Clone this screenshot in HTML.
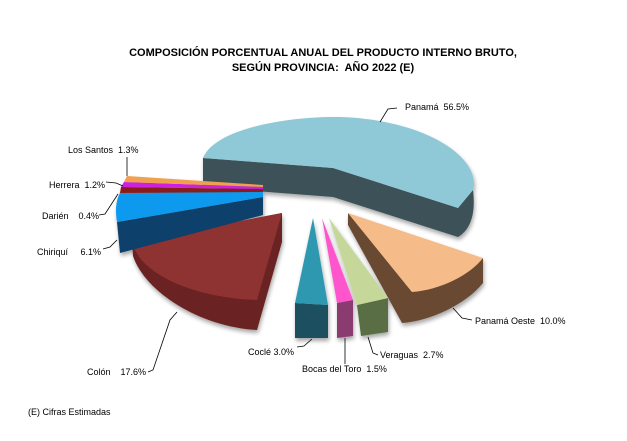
<!DOCTYPE html>
<html><head><meta charset="utf-8"><style>
html,body{margin:0;padding:0;background:#fff;}
svg{display:block;}
text{font-family:"Liberation Sans",Arial,sans-serif;font-size:9px;fill:#000;white-space:pre;}
.t{font-weight:bold;font-size:11px;}
</style></head><body>
<svg width="627" height="441" viewBox="0 0 627 441" xml:space="preserve">
<defs>
<filter id="sh" x="-10%" y="-10%" width="130%" height="130%"><feGaussianBlur in="SourceAlpha" stdDeviation="2"/><feOffset dx="1" dy="3"/><feComponentTransfer><feFuncA type="linear" slope="0.35"/></feComponentTransfer><feMerge><feMergeNode/><feMergeNode in="SourceGraphic"/></feMerge></filter>
</defs>
<text class="t" x="323" y="56" text-anchor="middle">COMPOSICIÓN PORCENTUAL ANUAL DEL PRODUCTO INTERNO BRUTO,</text>
<text class="t" x="323" y="71" text-anchor="middle">SEGÚN PROVINCIA:  AÑO 2022 (E)</text>

<g filter="url(#sh)">
<path d="M203,158 L203,187 L333,197 L458,237 C470,230 476,215 473,190 L458,208 L333,168 Z" fill="#3D5159"/>
<path d="M203,158 C215,128 290,116 340,117 C430,120 482,160 473,190 L458,208 L333,168 Z" fill="#8FC8D6"/>
<path d="M348,213 L348,225 L402,323 C430,321 465,305 483,283 L483,258 L412,292 Z" fill="#6B4A33"/>
<path d="M348,213 L483,258 C470,275 440,290 412,292 Z" fill="#F5BC8A"/>
<path d="M357,305 L388,298 L388,332 L361,336 Z" fill="#5A6E45"/>
<path d="M329,218 L388,298 L357,305 Z" fill="#C5D89A"/>
<path d="M337,303 L353,300 L353,336 L337,338 Z" fill="#8A3A70"/>
<path d="M322,218 L353,300 L337,303 Z" fill="#FF55CC"/>
<path d="M295,303 L328,305 L328,338 L295,338 Z" fill="#1A4F5E"/>
<path d="M313,218 L328,305 L295,303 Z" fill="#2E98B0"/>
<path d="M132,242 L133,256 C145,292 200,327 257,330 L282,242 L282,213 Z" fill="#6B2222"/>
<path d="M132,242 L282,213 L257,300 C195,298 140,275 132,242 Z" fill="#8F3232"/>
<path d="M117,222 L263,197 L263,215 L120,253 Z" fill="#0A3F6A"/>
<path d="M120,193 L263,191 L263,197 L117,222 C115,210 116,200 120,193 Z" fill="#1199EE"/>
<path d="M121,187 L263,189 L263,192 L120,193 Z" fill="#8B1A1A"/>
<path d="M124,182 L263,187 L263,189 L121,187 Z" fill="#CC22DD"/>
<path d="M127,176 L263,185 L263,187 L124,182 Z" fill="#F0A050"/>
</g>

<g fill="none" stroke="#000" stroke-width="0.8">
<polyline points="127,157 127,176"/>
<polyline points="106,182 116,183 123,186"/>
<polyline points="99,215 105,214 118,194"/>
<polyline points="103,249 110,247 117,240"/>
<polyline points="148,372 153,370 170,320 177,312"/>
<polyline points="397,108 388,109 380,122"/>
<polyline points="472,320 462,318 453,308"/>
<polyline points="297,347 304,346 312,339"/>
<polyline points="345,338 345,364"/>
<polyline points="378,355 373,353 368,337"/>
</g>

<text x="68" y="153">Los Santos  1.3%</text>
<text x="49" y="188">Herrera  1.2%</text>
<text x="42" y="219">Darién    0.4%</text>
<text x="37" y="255">Chiriquí     6.1%</text>
<text x="87" y="375">Colón    17.6%</text>
<text x="405" y="110">Panamá  56.5%</text>
<text x="475" y="324">Panamá Oeste  10.0%</text>
<text x="248" y="355">Coclé 3.0%</text>
<text x="302" y="372">Bocas del Toro  1.5%</text>
<text x="380" y="358">Veraguas  2.7%</text>
<text x="28" y="415">(E) Cifras Estimadas</text>
</svg>
</body></html>
